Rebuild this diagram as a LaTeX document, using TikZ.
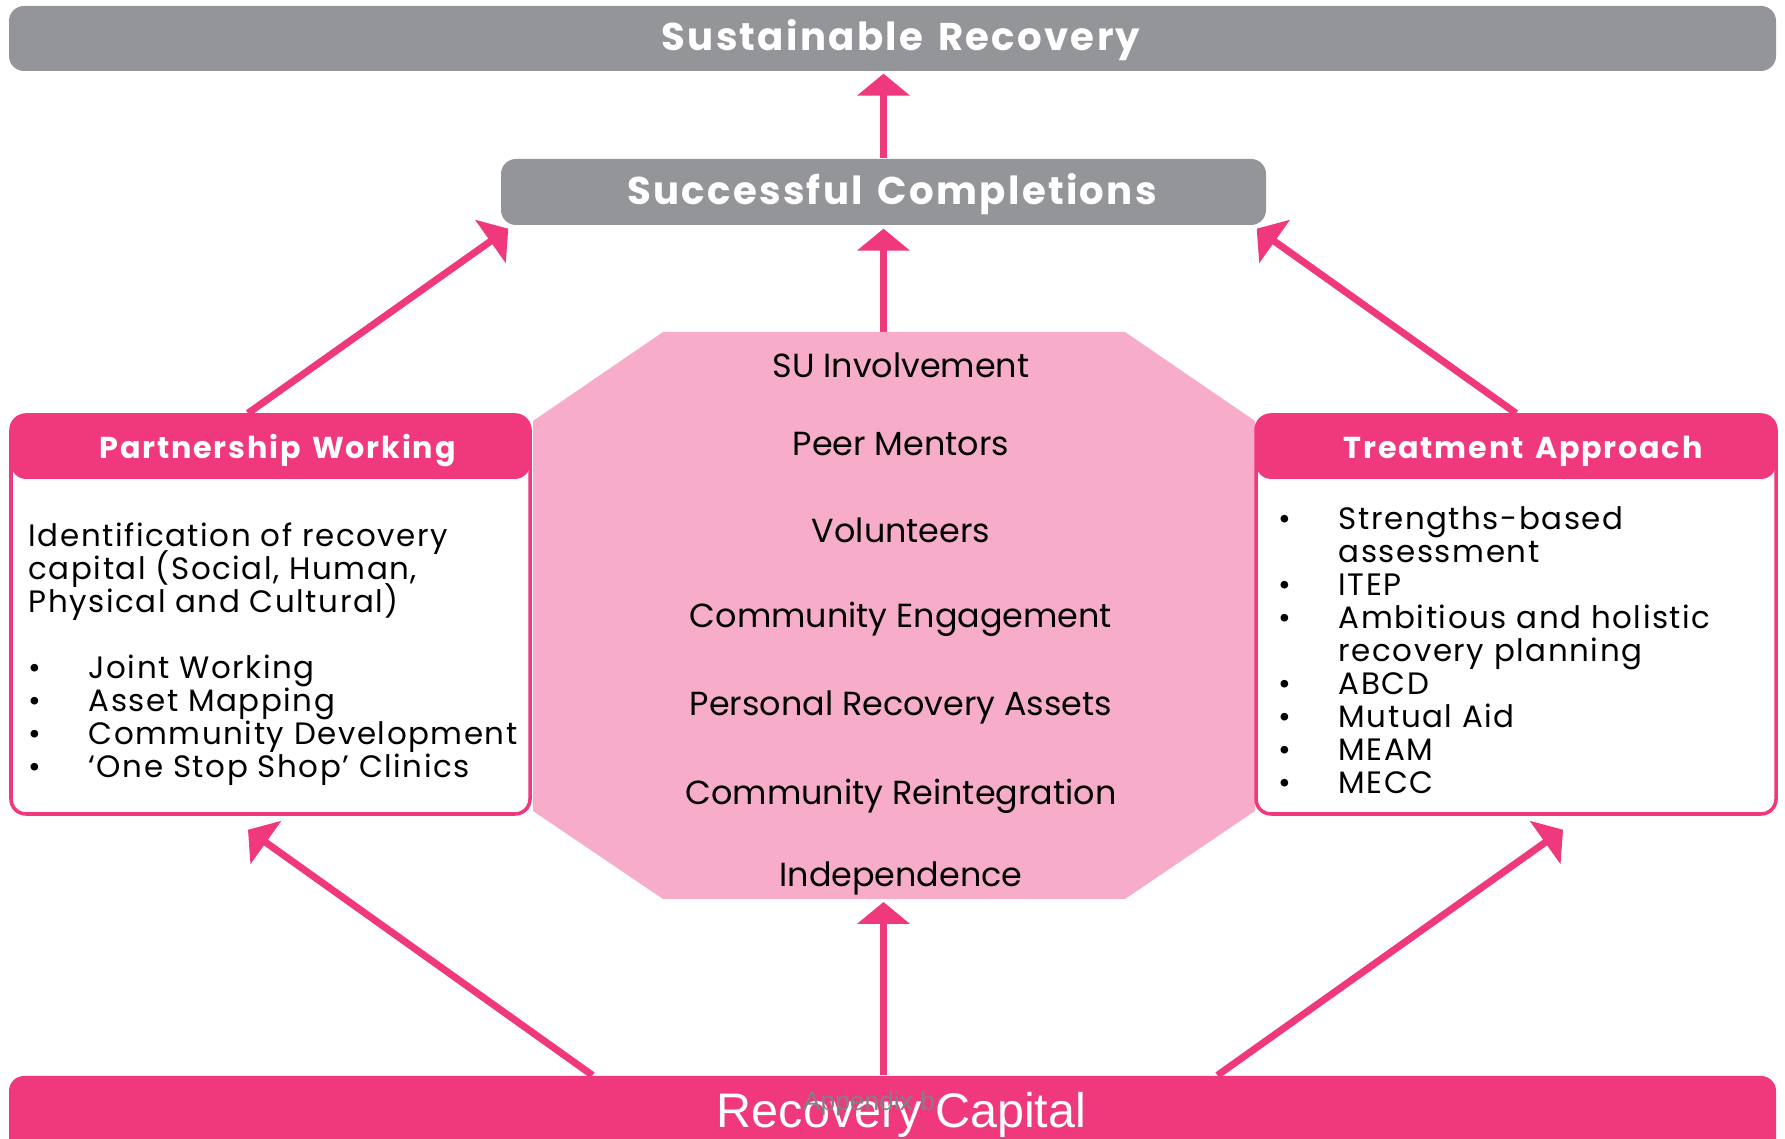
\documentclass[tikz,border=0pt]{standalone}
\usepackage{fontspec}
\setmainfont{Poppins}
\newfontfamily\capfont{Liberation Sans}
\newfontfamily\headfont[LetterSpace=6,WordSpace=1.4]{Poppins}
\newfontfamily\listfont[LetterSpace=5]{Poppins}
\usetikzlibrary{arrows.meta}
\usetikzlibrary{backgrounds}
\definecolor{hotpink}{RGB}{240,56,125}
\definecolor{softpink}{RGB}{247,173,201}
\definecolor{bargrey}{RGB}{147,149,152}
\definecolor{appgrey}{RGB}{130,130,130}
\newcommand{\itembul}{\makebox[0.6cm][l]{\textbullet}}
\newcommand{\tightlines}{\setlength{\lineskiplimit}{-1cm}}

\begin{document}
\begin{tikzpicture}[line cap=round,line join=round,x=1.0cm,y=1.0cm,
    >={Triangle[width=5.2mm,length=2.2mm]},
    greybar/.style={rectangle,rounded corners=0.15cm,fill=bargrey,text=white,inner sep=0pt,
      text height=0.7em,text depth=0pt,font=\headfont\fontsize{11}{13}\selectfont\bfseries,
      execute at begin node={\hspace*{0.17cm}}},
    pinkbar/.style={rectangle,rounded corners=0.15cm,fill=hotpink,text=white,inner sep=0pt},
    headbar/.style={pinkbar,minimum height=0.65cm,text height=0.7em,text depth=0pt,
      font=\headfont\fontsize{8.6}{10}\selectfont\bfseries,execute at begin node={\hspace*{0.14cm}}},
    listbox/.style={rectangle,rounded corners=0.15cm,draw=hotpink,line width=1pt,fill=white,inner sep=0pt},
    bodytext/.style={align=left,inner sep=0pt,anchor=north west,
      font=\listfont\fontsize{8.8}{9.4}\selectfont\tightlines},
    octtext/.style={anchor=base,inner sep=0pt,font=\fontsize{9.5}{11}\selectfont},
    uparrow/.style={->,draw=hotpink,line width=2pt,line cap=butt}]
  \useasboundingbox (0,0) rectangle (17.85,11.38);
  % top bars
  \node[greybar,minimum width=17.67cm,minimum height=0.65cm] (sr) at (8.925,10.995) {Sustainable Recovery};
  \node[greybar,minimum width=7.65cm,minimum height=0.66cm] (sc) at (8.835,9.46) {Successful Completions};
  % octagon
  \node[minimum width=7.22cm,minimum height=5.67cm,inner sep=0pt,outer sep=0pt] (oct) at (8.94,5.225) {};
  \fill[softpink] ([xshift=1.3cm]oct.north west) -- ([xshift=-1.3cm]oct.north east)
    -- ([yshift=-0.89cm]oct.north east) -- ([yshift=0.88cm]oct.south east)
    -- ([xshift=-1.3cm]oct.south east) -- ([xshift=1.3cm]oct.south west)
    -- ([yshift=0.88cm]oct.south west) -- ([yshift=-0.89cm]oct.north west) -- cycle;
  \foreach \y/\t [count=\i] in {7.60/SU Involvement,6.82/Peer Mentors,5.95/Volunteers,
      5.10/Community Engagement,4.22/Personal Recovery Assets,3.33/Community Reintegration,2.51/Independence}
    \node[octtext] (item\i) at (9.01,\y) {\t};
  % side boxes
  \node[listbox,minimum width=5.19cm,minimum height=3.99cm] (pw) at (2.705,5.235) {};
  \node[headbar,minimum width=5.19cm,anchor=north] (pwhead) at (pw.north) {Partnership Working};
  \node[bodytext] (pwbody) at (0.28,6.16) {Identification of recovery\\capital (Social, Human,\\Physical and Cultural)\\[9.4pt]
    \itembul Joint Working\\\itembul Asset Mapping\\\itembul Community Development\\\itembul ‘One Stop Shop’ Clinics};
  \node[listbox,minimum width=5.20cm,minimum height=3.99cm] (tp) at (15.16,5.235) {};
  \node[headbar,minimum width=5.20cm,anchor=north] (tphead) at (tp.north) {Treatment Approach};
  \node[bodytext] (tpbody) at (12.78,6.32) {\itembul Strengths-based\\\hspace*{0.6cm}assessment\\\itembul ITEP\\
    \itembul Ambitious and holistic\\\hspace*{0.6cm}recovery planning\\\itembul ABCD\\\itembul Mutual Aid\\
    \itembul MEAM\\\itembul MECC};
  % bottom bar
  \node[pinkbar,minimum width=17.67cm,minimum height=0.78cm,font=\capfont\fontsize{13.8}{15}\selectfont,
    execute at begin node={\hspace*{0.18cm}}] (rc) at (8.925,0.23) {Recovery Capital};
  \node[inner sep=0pt,text=appgrey,font=\capfont\fontsize{7.5}{9}\selectfont] (appx) at (8.69,0.34) {Appendix b};
  % arrows
  \begin{scope}[on background layer]
    \draw[uparrow,shorten >=0.02cm] (sc.north) -- (sr.south -| sc.north);
    \draw[uparrow,shorten >=0.03cm] (oct.north -| sc.south) -- (sc.south);
    \draw[uparrow] ([xshift=-0.225cm]pw.north) -- ([xshift=0.08cm,yshift=-0.03cm]sc.south west);
    \draw[uparrow] (tp.north) -- ([xshift=-0.1cm,yshift=-0.03cm]sc.south east);
    \draw[uparrow] ([xshift=-3cm]rc.north) -- ([xshift=-0.225cm,yshift=-0.14cm]pw.south);
    \draw[uparrow,shorten >=0.03cm] (rc.north -| sc.south) -- (oct.south -| sc.south);
    \draw[uparrow] ([xshift=3.25cm]rc.north) -- ([xshift=0.47cm,yshift=-0.14cm]tp.south);
  \end{scope}
\end{tikzpicture}
\end{document}
